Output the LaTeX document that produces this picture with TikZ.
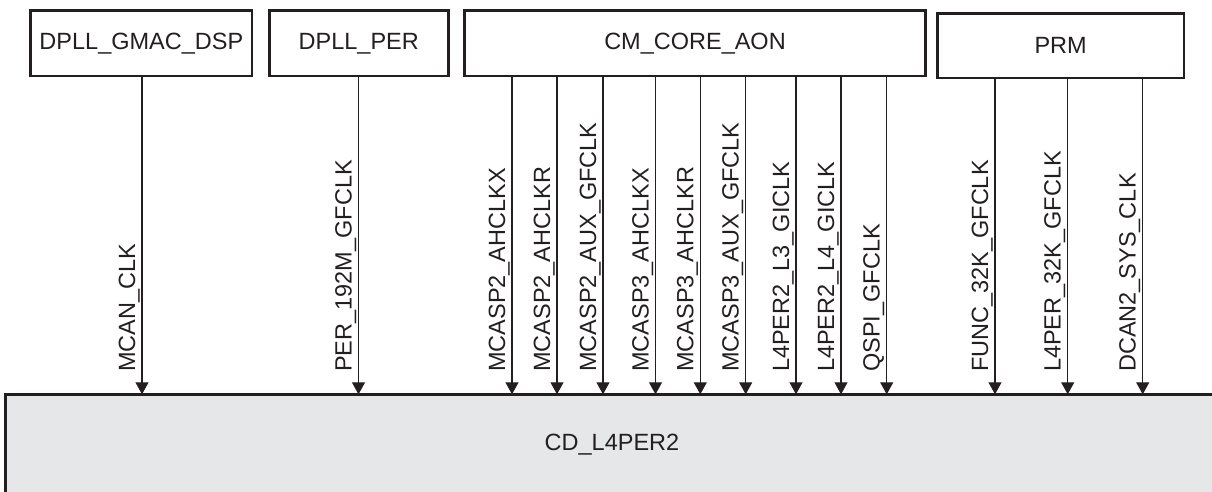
\documentclass[tikz,border=0pt]{standalone}
\usepackage{fontspec}
\setmainfont{Liberation Sans}
\usetikzlibrary{arrows.meta}
\definecolor{ink}{HTML}{231F20}
\definecolor{cdfill}{HTML}{E6E7E8}
\begin{document}
\begin{tikzpicture}[x=1pt,y=-1pt,
  font=\fontsize{23.5}{28}\selectfont,
  srcbox/.style={draw=ink, line width=2.6pt, fill=white, inner sep=0pt, text=ink},
  clk/.style={draw=ink, line width=1.1pt, -{Triangle[width=13pt,length=12pt]}},
  sig/.style={rotate=90, anchor=base west, inner sep=0pt, text=ink}]
\useasboundingbox (0,0) rectangle (1212,491);
% target domain
\node[draw=ink, fill=cdfill, line width=3.5pt, outer sep=0pt, inner sep=0pt,
      minimum width=1300pt, minimum height=200pt, anchor=north west] (cd) at (5.3,394.3) {};
\node[text=ink, anchor=base, inner sep=0pt] (cdlabel) at (612,450) {CD\_L4PER2};
% source boxes
\node[srcbox, minimum width=221.3pt, minimum height=65.3pt] (gmac) at (141.35,43.35) {DPLL\_GMAC\_DSP};
\node[srcbox, minimum width=179pt, minimum height=65.3pt] (per) at (358.8,43.35) {DPLL\_PER};
\node[srcbox, minimum width=460.6pt, minimum height=65.3pt] (cm) at (695,43.35) {CM\_CORE\_AON};
\node[srcbox, minimum width=246.7pt, minimum height=64.7pt] (prm) at (1060.65,45.65) {PRM};
% clocks
\foreach \src/\x/\name/\lab in {
  gmac/142/mcan/MCAN\_CLK,
  per/358.5/per192/PER\_192M\_GFCLK,
  cm/512/a2x/MCASP2\_AHCLKX,
  cm/557/a2r/MCASP2\_AHCLKR,
  cm/603/a2aux/MCASP2\_AUX\_GFCLK,
  cm/655.5/a3x/MCASP3\_AHCLKX,
  cm/700.3/a3r/MCASP3\_AHCLKR,
  cm/745.7/a3aux/MCASP3\_AUX\_GFCLK,
  cm/796/l3gi/L4PER2\_L3\_GICLK,
  cm/841/l4gi/L4PER2\_L4\_GICLK,
  cm/886.7/qspi/QSPI\_GFCLK,
  prm/995/func/FUNC\_32K\_GFCLK,
  prm/1067.7/l4per/L4PER\_32K\_GFCLK,
  prm/1142.7/dcan/DCAN2\_SYS\_CLK}{
  \draw[clk] (\src.south -| \x,0) -- (cd.north -| \x,0);
  \node[sig] (l\name) at (\x-7,372) {\lab};
}
\end{tikzpicture}
\end{document}
